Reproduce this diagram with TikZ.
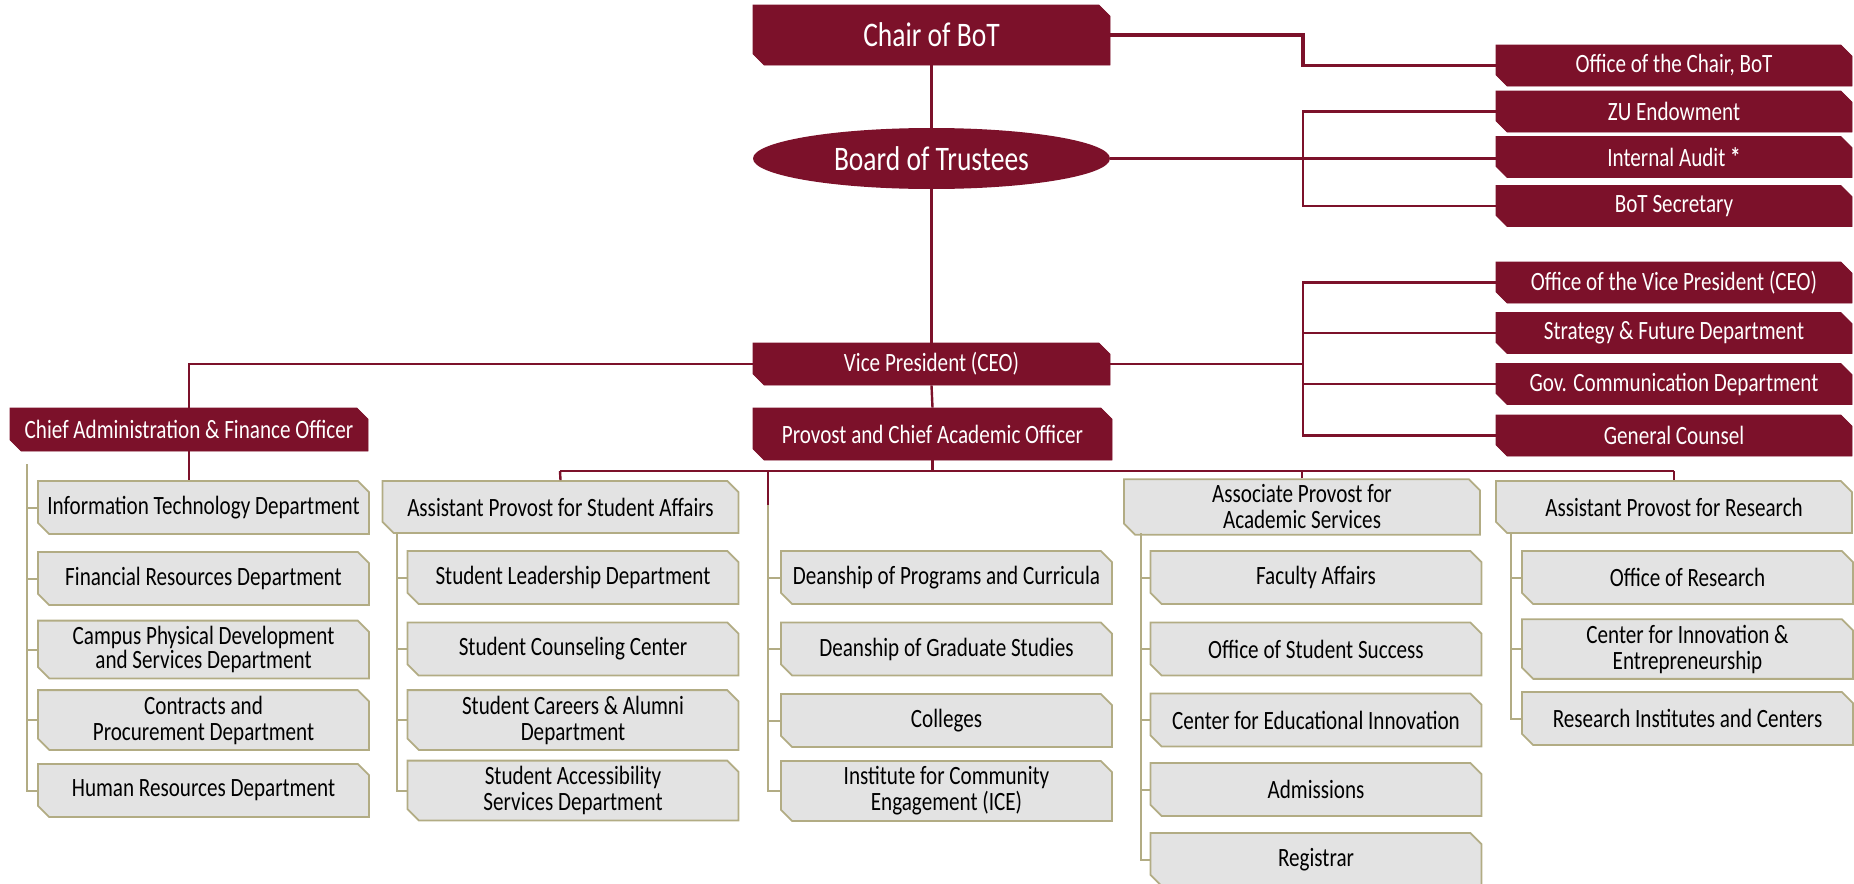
\documentclass[tikz,border=0pt]{standalone}
\usepackage{fontspec}
\setmainfont{Carlito}[FakeStretch=0.8]
\usetikzlibrary{shapes.geometric,shapes.misc}
\definecolor{zumaroon}{RGB}{124,17,42}
\definecolor{zuolive}{RGB}{178,172,132}
\definecolor{zugrey}{RGB}{227,227,227}
\newcommand\orgfont{\fontsize{13.2}{13}\selectfont}
\newcommand\orgbig{\fontsize{17.2}{18}\selectfont}
\begin{document}
\begin{tikzpicture}[x=0.5pt, y=-0.5pt,
    cut/.style={chamfered rectangle, chamfered rectangle corners={north east,south west},
      chamfered rectangle xsep=2.8pt, chamfered rectangle ysep=2.8pt, inner sep=0pt, align=center},
    mbox/.style={cut, fill=zumaroon, draw=zumaroon, text=white, font=\orgfont,
      minimum width=178pt, minimum height=20.5pt},
    ghead/.style={cut, fill=zugrey, draw=zuolive, line width=0.9pt, font=\orgfont,
      minimum width=178pt, minimum height=26pt},
    gbox/.style={cut, fill=zugrey, draw=zuolive, line width=0.9pt, font=\orgfont,
      minimum width=165.5pt, minimum height=26.5pt},
    mline/.style={draw=zumaroon, line width=1.2pt},
    oline/.style={draw=zuolive, line width=1pt}]
  \useasboundingbox (0,0) rectangle (1854,884) ;

  % board level
  \node[mbox, font=\orgbig, minimum width=178.5pt, minimum height=30pt] (chair) at (931.5,35){Chair of BoT} ;
  \node[ellipse, fill=zumaroon, text=white, font=\orgbig, inner sep=0pt,
    minimum width=178.5pt, minimum height=30.5pt] (bot) at (931.5,158.5){Board of Trustees} ;
  \node[mbox] (ochair) at (1674,65.5){Office of the Chair, BoT} ;
  \node[mbox] (zu) at (1674,111.5){ZU Endowment} ;
  \node[mbox] (audit) at (1674,157){Internal Audit \textbf{*}} ;
  \node[mbox] (sec) at (1674,206){BoT Secretary} ;

  % executive level
  \node[mbox, minimum width=178.5pt, minimum height=21pt] (vp) at (931.5,364){Vice President (CEO)} ;
  \node[mbox, minimum width=179.5pt, minimum height=26pt] (prov) at (932.5,434){Provost and Chief Academic Officer} ;
  \node[mbox, minimum width=179pt, minimum height=21.5pt] (cafo) at (189,429.5){Chief Administration \& Finance Officer} ;
  \node[mbox] (ovp) at (1674,282.5){Office of the Vice President (CEO)} ;
  \node[mbox] (strat) at (1674,333){Strategy \& Future Department} ;
  \node[mbox] (gov) at (1674,384){Gov. Communication Department} ;
  \node[mbox] (gc) at (1674,435.5){General Counsel} ;

  % administration and finance
  \node[gbox] (it) at (203.5,507.5){Information Technology Department} ;
  \node[gbox] (fin) at (203.5,578.5){Financial Resources Department} ;
  \node[gbox] (campus) at (203.5,649.5){Campus Physical Development\\[-1pt]and Services Department} ;
  \node[gbox] (contr) at (203.5,720){Contracts and\\Procurement Department} ;
  \node[gbox] (hr) at (203.5,790.5){Human Resources Department} ;

  % academic heads
  \node[ghead] (apsa) at (560.5,507){Assistant Provost for Student Affairs} ;
  \node[ghead] (assoc) at (1302,507){Associate Provost for\\Academic Services} ;
  \node[ghead] (res) at (1674,507){Assistant Provost for Research} ;

  % student affairs
  \node[gbox] (lead) at (573,577.5){Student Leadership Department} ;
  \node[gbox] (couns) at (573,649){Student Counseling Center} ;
  \node[gbox] (career) at (573,720){Student Careers \& Alumni\\Department} ;
  \node[gbox] (access) at (573,790.5){Student Accessibility\\Services Department} ;

  % deanships
  \node[gbox] (prog) at (946.5,577.5){Deanship of Programs and Curricula} ;
  \node[gbox] (grad) at (946.5,649){Deanship of Graduate Studies} ;
  \node[gbox] (coll) at (946.5,720.5){Colleges} ;
  \node[gbox] (ice) at (946.5,791){Institute for Community\\Engagement (ICE)} ;

  % academic services
  \node[gbox] (fac) at (1316,577.5){Faculty Affairs} ;
  \node[gbox] (succ) at (1316,649){Office of Student Success} ;
  \node[gbox] (innov) at (1316,720){Center for Educational Innovation} ;
  \node[gbox] (adm) at (1316,789.5){Admissions} ;
  \node[gbox] (reg) at (1316,859.5){Registrar} ;

  % research
  \node[gbox] (ores) at (1687.5,577.5){Office of Research} ;
  \node[gbox] (cie) at (1687.5,649){Center for Innovation \&\\Entrepreneurship} ;
  \node[gbox] (ric) at (1687.5,718.5){Research Institutes and Centers} ;

  % trunk and side branches
  \coordinate (cb) at (1303,35) ;
  \draw[mline] (chair.south) -- (bot.north) ;
  \draw[mline] (bot.south) -- (vp.north) ;
  \draw[mline] (vp.south) -- (prov.north) ;
  \draw[mline, line width=1.6pt] (chair.east) -- (cb) |- (ochair.west) ;
  \draw[mline] (bot.east) -- (bot.east -| audit.west) ;
  \draw[mline] (zu.west) -- (zu.west -| cb) -- (sec.west -| cb) -- (sec.west) ;
  \draw[mline] (vp.east) -- (vp.east -| cb) ;
  \draw[mline] (ovp.west) -- (ovp.west -| cb) -- (gc.west -| cb) -- (gc.west) ;
  \draw[mline] (strat.west) -- (strat.west -| cb) ;
  \draw[mline] (gov.west) -- (gov.west -| cb) ;
  \draw[mline] (vp.west) -| (cafo.north) ;
  \draw[mline] (cafo.south) -- (cafo.south |- it.north) ;

  % provost bar
  \coordinate (bl) at (560,471) ;
  \coordinate (br) at (1674,471) ;
  \draw[mline] (bl) -- (br) ;
  \draw[mline] (prov.south) -- (prov.south |- bl) ;
  \draw[mline] (bl) -- (apsa.north) ;
  \draw[mline] (assoc.north) -- (assoc.north |- bl) ;
  \draw[mline] (res.north) -- (res.north |- bl) ;

  % columns
  \coordinate (lt) at (27,464) ;
  \draw[oline] (lt) |- (hr.west) ;
  \draw[oline] (it.west) -- (it.west -| lt) ;
  \draw[oline] (fin.west) -- (fin.west -| lt) ;
  \draw[oline] (campus.west) -- (campus.west -| lt) ;
  \draw[oline] (contr.west) -- (contr.west -| lt) ;

  \coordinate (st) at (397,533) ;
  \draw[oline] (st) |- (access.west) ;
  \draw[oline] (lead.west) -- (lead.west -| st) ;
  \draw[oline] (couns.west) -- (couns.west -| st) ;
  \draw[oline] (career.west) -- (career.west -| st) ;

  \coordinate (dt) at (768,471) ;
  \coordinate (dm) at (768,505) ;
  \draw[mline] (dt) -- (dm) ;
  \draw[oline] (dm) |- (ice.west) ;
  \draw[oline] (prog.west) -- (prog.west -| dm) ;
  \draw[oline] (grad.west) -- (grad.west -| dm) ;
  \draw[oline] (coll.west) -- (coll.west -| dm) ;

  \coordinate (at) at (1141,533) ;
  \draw[oline] (at) |- (reg.west) ;
  \draw[oline] (fac.west) -- (fac.west -| at) ;
  \draw[oline] (succ.west) -- (succ.west -| at) ;
  \draw[oline] (innov.west) -- (innov.west -| at) ;
  \draw[oline] (adm.west) -- (adm.west -| at) ;

  \coordinate (rt) at (1511,533) ;
  \draw[oline] (rt) |- (ric.west) ;
  \draw[oline] (ores.west) -- (ores.west -| rt) ;
  \draw[oline] (cie.west) -- (cie.west -| rt) ;
\end{tikzpicture}
\end{document}
